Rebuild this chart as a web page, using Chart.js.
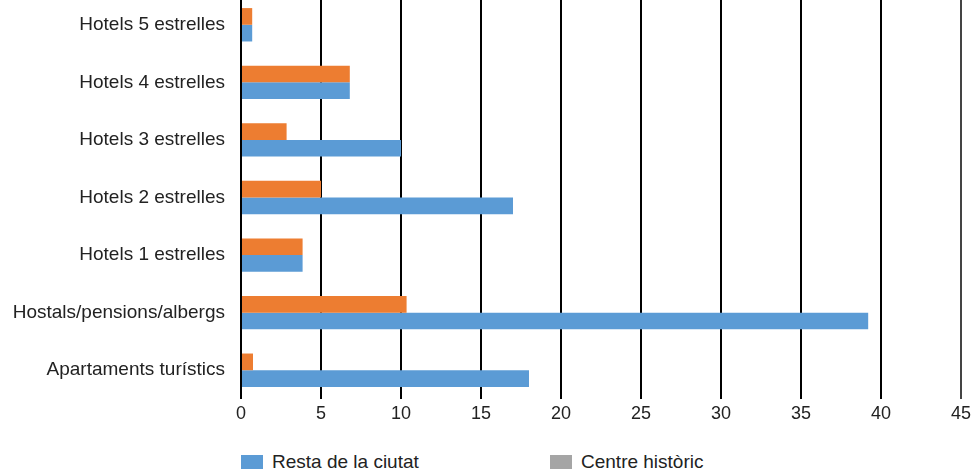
<!DOCTYPE html>
<html>
<head>
<meta charset="utf-8">
<script src="https://cdn.jsdelivr.net/npm/chart.js@4.4.1/dist/chart.umd.min.js"></script>
<style>
  body { margin: 0; background: #fff; width: 975px; height: 473px; overflow: hidden; position: relative;
         font-family: "Liberation Sans", Arial, Helvetica, sans-serif; }
  #wrap { position: absolute; left: 0; top: -4px; width: 975px; height: 434px; }
  .legend-item { position: absolute; top: 452px; height: 20px; display: flex; align-items: center;
                 font-size: 19px; color: #222; white-space: nowrap; }
  .legend-box { width: 22px; height: 14px; margin-right: 9px; }
</style>
</head>
<body>
<div id="wrap"><canvas id="chart"></canvas></div>
<div id="legend"></div>
<script>
const categories = [
    'Hotels 5 estrelles',
    'Hotels 4 estrelles',
    'Hotels 3 estrelles',
    'Hotels 2 estrelles',
    'Hotels 1 estrelles',
    'Hostals/pensions/albergs',
    'Apartaments turístics'
];
const centreHistoric = [0.7, 6.8, 2.85, 5.0, 3.85, 10.35, 0.75];
const restaCiutat = [0.7, 6.8, 10.0, 17.0, 3.85, 39.2, 18.0];
const xTicks = [0, 5, 10, 15, 20, 25, 30, 35, 40, 45];

const legendLabels = ['Resta de la ciutat', 'Centre històric'];
const legendColors = ['#5B9BD5', '#A5A5A5'];

const textColor = '#222';

const ctx = document.getElementById('chart').getContext('2d');
const chart = new Chart(ctx, {
    type: 'bar',
    data: {
        labels: categories,
        datasets: [
            {
                label: 'Centre històric',
                data: centreHistoric,
                backgroundColor: '#ED7D31',
                categoryPercentage: 0.58,
                barPercentage: 1
            },
            {
                label: 'Resta de la ciutat',
                data: restaCiutat,
                backgroundColor: '#5B9BD5',
                categoryPercentage: 0.58,
                barPercentage: 1
            }
        ]
    },
    options: {
        indexAxis: 'y',
        responsive: true,
        maintainAspectRatio: false,
        animation: false,
        layout: { padding: { right: 9 } },
        plugins: {
            legend: { display: false },
            tooltip: { enabled: false }
        },
        scales: {
            x: {
                min: xTicks[0],
                max: xTicks[xTicks.length - 1],
                afterBuildTicks: (axis) => { axis.ticks = xTicks.map(v => ({ value: v })); },
                ticks: {
                    color: textColor,
                    font: { family: '"Liberation Sans", Arial, sans-serif', size: 18 },
                    padding: 4,
                    maxRotation: 0
                },
                grid: {
                    color: (c) => c.index === xTicks.length - 1 ? '#444' : '#000',
                    lineWidth: 2,
                    drawTicks: false
                },
                border: { display: false },
                afterFit: (axis) => { axis.height = 31; }
            },
            y: {
                ticks: {
                    color: textColor,
                    font: { family: '"Liberation Sans", Arial, sans-serif', size: 19 },
                    padding: 16
                },
                grid: { display: false, drawTicks: false },
                border: { display: false },
                afterFit: (axis) => {
                    axis.width = 241;
                    // no extra room above/below the category labels
                    axis.paddingTop = 0;
                    axis.paddingBottom = 0;
                }
            }
        }
    }
});

// Legend under the chart, one fixed column per item
const legendEl = document.getElementById('legend');
const legendLeft = [241, 550];
legendLabels.forEach((name, i) => {
    const item = document.createElement('div');
    item.className = 'legend-item';
    item.style.left = legendLeft[i] + 'px';
    item.innerHTML = `<span class="legend-box" style="background:${legendColors[i]}"></span><span>${name}</span>`;
    legendEl.appendChild(item);
});
</script>
</body>
</html>
